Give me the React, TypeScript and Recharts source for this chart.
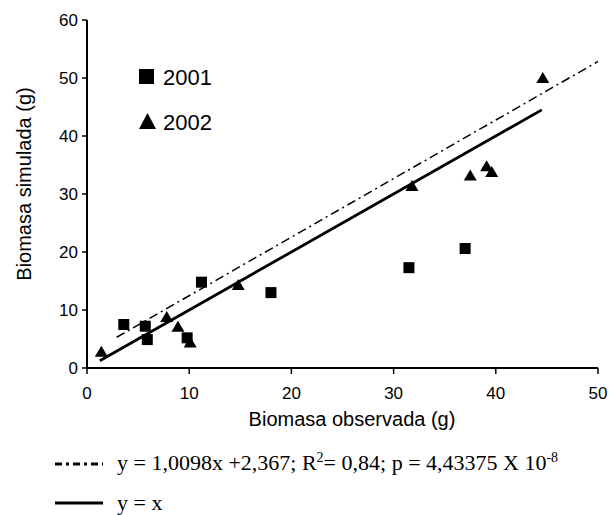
import React from 'react';
import { ScatterChart, Scatter, XAxis, YAxis } from 'recharts';

const obs2001 = [3.6, 5.7, 5.9, 9.8, 11.2, 18.0, 31.5, 37.0];
const sim2001 = [7.5, 7.2, 4.9, 5.2, 14.8, 13.0, 17.3, 20.6];
const obs2002 = [1.4, 7.8, 8.9, 10.1, 14.8, 31.8, 37.5, 39.1, 39.6, 44.6];
const sim2002 = [2.8, 8.8, 7.1, 4.4, 14.3, 31.4, 33.2, 34.8, 33.8, 50.0];
const fitX = [2.9, 50];
const fitY = [5.3, 52.85];
const idX = [1.25, 44.5];
const idY = [1.25, 44.5];
const xTicks = [0, 10, 20, 30, 40, 50];
const yTicks = [0, 10, 20, 30, 40, 50, 60];
const seriesNames = ['2001', '2002'];
const xTitle = 'Biomasa observada (g)';
const yTitle = 'Biomasa simulada (g)';

const zip = (xs: number[], ys: number[]) => xs.map((x, i) => ({ x, y: ys[i] }));
const d2001 = zip(obs2001, sim2001);
const d2002 = zip(obs2002, sim2002);
const dFit = zip(fitX, fitY);
const dId = zip(idX, idY);

const SANS = '"Liberation Sans", Arial, sans-serif';
const SERIF = '"Liberation Serif", "Times New Roman", serif';

const Square = (p: any) => <rect x={p.cx - 5.5} y={p.cy - 5.5} width={11} height={11} fill="#000" />;
const Tri = (p: any) => (
  <polygon points={`${p.cx},${p.cy - 6} ${p.cx + 6.5},${p.cy + 5} ${p.cx - 6.5},${p.cy + 5}`} fill="#000" />
);
const Empty = () => <g />;

export default function App() {
  const W = 600;
  const H = 507;
  return (
    <div style={{ position: 'relative', width: W, height: H }}>
      <ScatterChart width={W} height={H} margin={{ top: 12, right: 10, left: 0, bottom: 87 }}>
        <XAxis
          type="number"
          dataKey="x"
          domain={[0, 50]}
          ticks={xTicks}
          allowDataOverflow
          height={60}
          axisLine={{ stroke: '#000', strokeWidth: 2 }}
          tickLine={{ stroke: '#000', strokeWidth: 1.5 }}
          tickSize={6}
          tickMargin={13}
          tick={{ fill: '#000', fontSize: 17, fontFamily: SANS }}
        />
        <YAxis
          type="number"
          dataKey="y"
          domain={[0, 60]}
          ticks={yTicks}
          allowDataOverflow
          width={79}
          axisLine={{ stroke: '#000', strokeWidth: 2 }}
          tickLine={{ stroke: '#000', strokeWidth: 1.5 }}
          tickSize={5}
          tickMargin={4}
          tick={{ fill: '#000', fontSize: 17, fontFamily: SANS }}
        />
        <Scatter
          data={dFit}
          line={{ stroke: '#000', strokeWidth: 1.5, strokeDasharray: '9 4 2 4' }}
          shape={Empty}
          isAnimationActive={false}
        />
        <Scatter
          data={dId}
          line={{ stroke: '#000', strokeWidth: 2.8 }}
          shape={Empty}
          isAnimationActive={false}
        />
        <Scatter name={seriesNames[0]} data={d2001} shape={Square} isAnimationActive={false} />
        <Scatter name={seriesNames[1]} data={d2002} shape={Tri} isAnimationActive={false} />
      </ScatterChart>
      <svg
        width={W}
        height={H}
        style={{ position: 'absolute', left: 0, top: 0, pointerEvents: 'none' }}
      >
        <text x={344} y={418} textAnchor="middle" fontSize={20} fontFamily={SANS} fill="#000">
          {xTitle}
        </text>
        <text
          transform="translate(16,176) rotate(-90)"
          textAnchor="middle"
          dominantBaseline="central"
          fontSize={20}
          fontFamily={SANS}
          fill="#000"
        >
          {yTitle}
        </text>
        <rect x={131} y={61} width={15} height={15} fill="#000" />
        <text x={155} y={77} fontSize={22} fontFamily={SANS} fill="#000">{seriesNames[0]}</text>
        <polygon points="139.5,105 148,121 131,121" fill="#000" />
        <text x={155} y={122} fontSize={22} fontFamily={SANS} fill="#000">{seriesNames[1]}</text>
        <line x1={47} y1={456} x2={95} y2={456} stroke="#000" strokeWidth={3} strokeDasharray="7 4 3 4" />
        <text x={109} y={462} fontSize={22} fontFamily={SERIF} fill="#000">
          y = 1,0098x +2,367; R<tspan dy={-8} fontSize={14}>2</tspan>
          <tspan dy={8}>= 0,84; p = 4,43375 X 10</tspan>
          <tspan dy={-8} fontSize={14}>-8</tspan>
        </text>
        <line x1={47} y1={495} x2={95} y2={495} stroke="#000" strokeWidth={3} />
        <text x={109} y={502} fontSize={22} fontFamily={SERIF} fill="#000">y = x</text>
      </svg>
    </div>
  );
}
